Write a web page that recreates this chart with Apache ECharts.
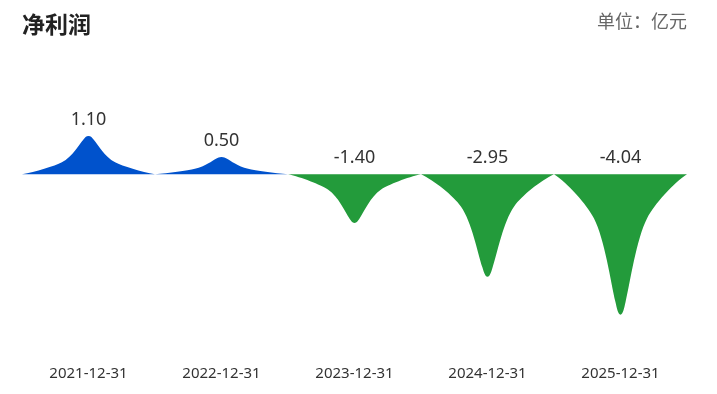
<!DOCTYPE html>
<html><head><meta charset="utf-8">
<script src="https://cdn.jsdelivr.net/npm/echarts@6/dist/echarts.min.js"></script>
<style>html,body{margin:0;padding:0;background:#fff}#c{width:717px;height:394px}</style>
</head><body><div id="c"></div>
<script>
const categories = ['2021-12-31','2022-12-31','2023-12-31','2024-12-31','2025-12-31'];
const netProfit = [1.10, 0.50, -1.40, -2.95, -4.04];
const titleText = '净利润';
const unitText = '单位：亿元';

const peakPath = 'path://M0,100 C10,94 24.6,78.6 30,68.6 C38.1,53.6 42.7,23 46.2,9 C47.3,4.5 48.2,0 50,0 C51.8,0 52.7,4.5 53.8,9 C57.3,23 61.9,53.6 70,68.6 C75.4,78.6 90,94 100,100 Z';
const FONT = '"Noto Sans","Noto Sans CJK SC",sans-serif';

const chart = echarts.init(document.getElementById('c'));
chart.setOption({
  animation: false,
  title: [
    {text: titleText, left: 22, top: 15, padding: 0, textStyle: {fontSize: 23, fontWeight: 'bold', color: '#222', fontFamily: FONT}},
    {text: unitText, right: 30, top: 14, padding: 0, textStyle: {fontSize: 18, fontWeight: 'normal', color: '#666', fontFamily: FONT}}
  ],
  grid: {left: 22, right: 30, top: 70, bottom: 46},
  xAxis: {
    type: 'category', data: categories,
    axisLine: {show: false, onZero: false}, axisTick: {show: false},
    axisLabel: {margin: 18, fontSize: 15, color: '#333', fontFamily: FONT}
  },
  yAxis: {type: 'value', min: -5, max: 3, show: false, splitLine: {show: false}},
  series: [{
    type: 'pictorialBar',
    barCategoryGap: '0%',
    symbol: peakPath,
    symbolSize: ['100%', '100%'],
    data: netProfit.map(v => ({
      value: v,
      itemStyle: {color: v >= 0 ? '#0052CC' : '#239B3B'}
    })),
    label: {
      show: true, position: 'top', distance: 7,
      fontSize: 18, color: '#333', fontFamily: FONT,
      formatter: p => p.value.toFixed(2)
    }
  }]
});
</script></body></html>
